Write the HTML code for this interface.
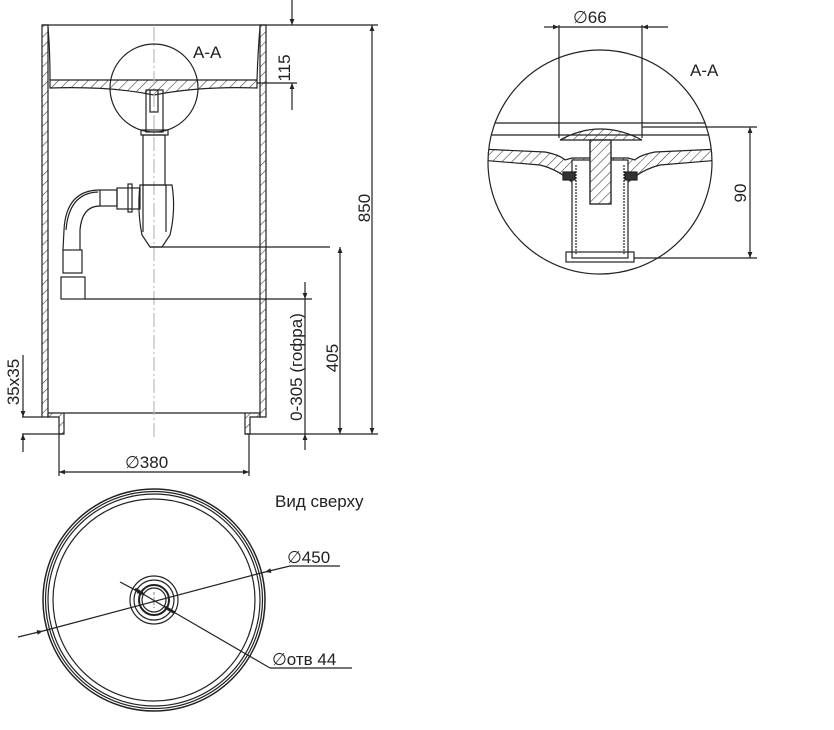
<!DOCTYPE html>
<html><head><meta charset="utf-8"><style>
html,body{margin:0;padding:0;background:#fff;}
svg{display:block;}
text{font-family:"Liberation Sans","DejaVu Sans",sans-serif;fill:#222;}
</style></head><body>
<svg width="834" height="730" viewBox="0 0 834 730" xmlns="http://www.w3.org/2000/svg">
<defs>
<pattern id="h" width="7" height="7" patternUnits="userSpaceOnUse" patternTransform="rotate(45)">
<line x1="0" y1="0" x2="0" y2="7" stroke="#333" stroke-width="1.1"/>
</pattern>
<marker id="a" viewBox="0 0 10 10" refX="10" refY="5" markerWidth="13" markerHeight="6" orient="auto-start-reverse" markerUnits="userSpaceOnUse"><path d="M0,1 L10,5 L0,9 z" fill="#222"/></marker>
<clipPath id="cc"><circle cx="600" cy="162" r="112"/></clipPath>
</defs>
<g stroke="#222" fill="none" stroke-width="1.2">
<path d="M42,25 L48,25 L48,417 L42,417 Z" fill="url(#h)"/>
<path d="M260,25 L266,25 L266,417 L260,417 Z" fill="url(#h)"/>
<line x1="42" y1="25" x2="266" y2="25"/>
<path d="M48,27 Q50,50 50,80"/>
<path d="M260,27 Q258,50 257,80"/>
<path d="M50,80 L257,80 L257,88 Q200,86 154,95 Q110,86 50,88 Z" fill="url(#h)"/>
<line x1="48" y1="413" x2="260" y2="413"/>
<path d="M48,413 L48,417 L59,417 L59,434 L64,434 L64,413" fill="url(#h)"/>
<path d="M260,413 L260,417 L250,417 L250,434 L245,434 L245,413" fill="url(#h)"/>
<line x1="22" y1="417" x2="42" y2="417"/>
<line x1="22" y1="434" x2="64" y2="434"/>
<line x1="245" y1="434" x2="378" y2="434"/>
<line x1="154" y1="27" x2="154" y2="440" stroke="#bbb" stroke-dasharray="14,3,2,3"/>
<circle cx="154" cy="88" r="44"/>
<rect x="146" y="90" width="17" height="42"/>
<rect x="150" y="90" width="8" height="22"/>
<rect x="141" y="130" width="27" height="5"/>
<rect x="143" y="135" width="22" height="50"/>
<path d="M140,185 L172,185 Q176,210 170,235 L162,247 L150,247 L142,235 Q137,210 140,185 Z"/>
<line x1="143" y1="185" x2="143" y2="232"/><line x1="166" y1="185" x2="166" y2="232"/>
<line x1="150" y1="247" x2="330" y2="247"/>
<rect x="117" y="188" width="23" height="21"/>
<rect x="128" y="184" width="4" height="28"/>
<rect x="100" y="190" width="17" height="16"/>
<path d="M100,190 Q66,190 64,230 L63,250"/>
<path d="M100,206 Q82,206 80,230 L80,250"/>
<path d="M98,192 Q69,193 66,230"/>
<rect x="63" y="250" width="19" height="23"/>
<rect x="61" y="277" width="24" height="22"/>
<line x1="85" y1="299" x2="312" y2="299"/>
<line x1="266" y1="25" x2="378" y2="25"/>
<line x1="257" y1="83" x2="297" y2="83"/>
<line x1="292" y1="0" x2="292" y2="25" marker-end="url(#a)"/>
<line x1="292" y1="110" x2="292" y2="83" marker-end="url(#a)"/>
<line x1="372" y1="25" x2="372" y2="434" marker-start="url(#a)" marker-end="url(#a)"/>
<line x1="340" y1="247" x2="340" y2="434" marker-start="url(#a)" marker-end="url(#a)"/>
<line x1="305" y1="282" x2="305" y2="299" marker-end="url(#a)"/>
<line x1="305" y1="450" x2="305" y2="434" marker-end="url(#a)"/>
<line x1="305" y1="299" x2="305" y2="434"/>
<line x1="23" y1="355" x2="23" y2="417" marker-end="url(#a)"/>
<line x1="23" y1="452" x2="23" y2="434" marker-end="url(#a)"/>
<line x1="59" y1="434" x2="59" y2="476"/><line x1="249" y1="434" x2="249" y2="476"/>
<line x1="59" y1="472" x2="249" y2="472" marker-start="url(#a)" marker-end="url(#a)"/>
<circle cx="154" cy="600" r="111" stroke-width="1.5"/>
<circle cx="154" cy="600" r="108.5"/>
<circle cx="154" cy="600" r="106"/>
<circle cx="154" cy="600" r="101"/>
<circle cx="154" cy="600" r="24"/>
<circle cx="154" cy="600" r="20"/>
<circle cx="154" cy="600" r="15" stroke-width="2"/>
<circle cx="154" cy="600" r="12"/>
<line x1="18" y1="637" x2="43" y2="631" marker-end="url(#a)"/>
<line x1="43" y1="631" x2="265" y2="572"/>
<line x1="290" y1="566" x2="265" y2="572" marker-end="url(#a)"/>
<line x1="290" y1="566" x2="340" y2="566"/>
<line x1="120" y1="582" x2="143" y2="594" marker-end="url(#a)"/>
<line x1="143" y1="594" x2="165" y2="607"/>
<line x1="165" y1="607" x2="270" y2="668"/>
<line x1="270" y1="668" x2="352" y2="668"/>
<path d="M165,607 l10,6" stroke-width="3"/><path d="M143,594 l-8,-5" stroke-width="3"/>
<line x1="154" y1="592" x2="154" y2="608" stroke="#999" stroke-dasharray="3,2"/>
<circle cx="600" cy="162" r="112"/>
<g clip-path="url(#cc)">
<line x1="480" y1="123" x2="720" y2="123"/>
<line x1="480" y1="135" x2="720" y2="135"/>
<path d="M480,149 L545,152 Q560,155 565,160 L572,158 L628,158 L635,160 Q640,155 655,152 L720,149 L720,160 L660,165 Q640,170 625,185 L575,185 Q560,170 540,165 L480,160 Z" fill="url(#h)"/>
<path d="M560,140 Q600,118 642,140 Z" fill="url(#h)"/>
<rect x="572" y="160" width="56" height="98" fill="#fff"/>
<line x1="576" y1="165" x2="576" y2="255" stroke-dasharray="2,1"/>
<line x1="624" y1="165" x2="624" y2="255" stroke-dasharray="2,1"/>
<rect x="590" y="140" width="21" height="64" fill="#fff"/>
<rect x="590" y="140" width="21" height="64" fill="url(#h)"/>
<rect x="566" y="252" width="68" height="10"/>
<rect x="563" y="172" width="12" height="8" fill="#333"/>
<rect x="625" y="172" width="12" height="8" fill="#333"/>
</g>
<line x1="559" y1="25" x2="559" y2="138"/>
<line x1="642" y1="25" x2="642" y2="138"/>
<line x1="544" y1="27" x2="559" y2="27" marker-end="url(#a)"/>
<line x1="559" y1="27" x2="642" y2="27"/>
<line x1="668" y1="27" x2="642" y2="27" marker-end="url(#a)"/>
<line x1="642" y1="127" x2="757" y2="127"/>
<line x1="634" y1="258" x2="757" y2="258"/>
<line x1="750" y1="127" x2="750" y2="258" marker-start="url(#a)" marker-end="url(#a)"/>
</g>
<g font-size="17">
<text x="193" y="58">A-A</text>
<text x="690" y="76">A-A</text>
<text x="573" y="23">∅66</text>
<text x="125" y="468">∅380</text>
<text x="275" y="507">Вид сверху</text>
<text x="287" y="563">∅450</text>
<text x="272" y="665">∅отв 44</text>
<text transform="translate(290,68) rotate(-90)" text-anchor="middle">115</text>
<text transform="translate(370,208) rotate(-90)" text-anchor="middle">850</text>
<text transform="translate(338,358) rotate(-90)" text-anchor="middle">405</text>
<text transform="translate(302,367) rotate(-90)" text-anchor="middle">0-305 (гофра)</text>
<text transform="translate(19,382) rotate(-90)" text-anchor="middle">35x35</text>
<text transform="translate(746,193) rotate(-90)" text-anchor="middle">90</text>
</g>
</svg>
</body></html>
